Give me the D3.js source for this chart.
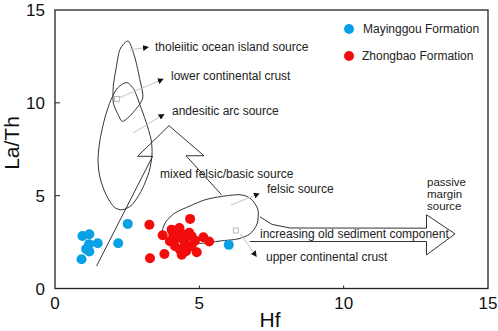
<!DOCTYPE html>
<html>
<head>
<meta charset="utf-8">
<script src="https://cdn.jsdelivr.net/npm/d3@7"></script>
<style>
  body { margin: 0; background: #fff; }
  svg { font-family: "Liberation Sans", Arial, sans-serif; }
</style>
</head>
<body>
<svg width="498" height="331"></svg>
<script>
// 1. Data
const xTicks = [0, 5, 10, 15];
const yTicks = [0, 5, 10, 15];

// Mayinggou Formation (Hf, La/Th)
const mayinggouHf   = [0.95, 1.19, 1.48, 1.18, 1.08, 1.19, 0.92, 2.52, 2.19, 6.02];
const mayinggouLaTh = [2.83, 2.92, 2.44, 2.39, 2.12, 1.99, 1.58, 3.48, 2.44, 2.35];

// Zhongbao Formation (Hf, La/Th)
const zhongbaoHf   = [3.27, 4.68, 3.73, 3.29, 3.79, 4.91, 5.14, 5.34,
                      4.04, 4.31, 4.65, 4.73, 4.85, 3.98, 4.16, 4.33, 4.54, 4.73, 4.27, 4.44, 4.50, 4.10, 4.39];
const zhongbaoLaTh = [3.43, 3.75, 2.87, 1.63, 1.86, 1.95, 2.76, 2.53,
                      3.17, 3.26, 3.00, 2.82, 2.58, 2.55, 2.28, 2.09, 2.01, 2.28, 2.73, 2.90, 2.46, 2.90, 1.82];

// source fields, in Hf / La/Th units
const oceanIslandField = [[2.54, 13.32], [2.25, 12.87], [2.11, 11.79], [2.02, 10.89], [2.02, 9.99], [2.19, 9.36],
                          [2.35, 9.0], [2.70, 9.47], [3.04, 10.26], [2.94, 11.25], [2.77, 12.42]];
const arcField = [[2.49, 11.09], [2.18, 10.82], [1.94, 10.17], [1.73, 9.2], [1.56, 8.01], [1.49, 6.93], [1.56, 5.96],
                  [1.77, 5.05], [2.04, 4.4], [2.32, 4.24], [2.67, 4.51], [3.01, 5.32], [3.26, 6.29], [3.36, 7.2],
                  [3.33, 8.01], [3.15, 8.99], [2.94, 9.9], [2.74, 10.71]];
const felsicField = [[3.71, 3.05], [3.84, 3.59], [4.16, 4.07], [4.68, 4.45], [5.2, 4.78], [5.78, 4.96], [6.41, 5.05],
                     [6.79, 4.83], [7.03, 4.24], [7.0, 3.48], [6.75, 2.94], [6.34, 2.67], [5.72, 2.56], [5.02, 2.43],
                     [4.33, 2.51], [3.84, 2.73]];
const mixingArrow = [[1.44, 1.21], [3.38, 7.12], [2.86, 7.12], [3.95, 8.77], [5.16, 7.15], [4.54, 7.15], [5.77, 5.05]];
const sedimentArrow = [[7.1, 3.86], [7.52, 3.45], [8.14, 3.26], [12.87, 3.25], [12.87, 3.97], [13.86, 2.94],
                       [12.87, 1.81], [12.87, 2.53], [6.75, 2.53]];

// annotations: [text, x, y] in pixels, leader lines [x1, y1, x2, y2]
const notes = [
  ["tholeiitic ocean island source", 155, 47],
  ["lower continental crust", 171, 76],
  ["andesitic arc source", 172, 111],
  ["mixed felsic/basic source", 160, 174],
  ["felsic source", 267, 189],
  ["increasing old sediment component", 260, 234],
  ["upper continental crust", 266, 256.5]
];
const marginNote = ["passive", "margin", "source"];
const leaders = [
  [130, 50, 146, 47.5],
  [120, 97.5, 161, 80],
  [133, 133, 162, 115.5],
  [231, 205, 257, 194.5],
  [240, 233.5, 255, 254.5]
];
const squares = [[117, 99], [235.8, 230.5]];

// 2. Setup
const svg = d3.select("svg");
const blue = "#0aa0e6";
const red = "#f20c0c";

const x = d3.scaleLinear().domain([0, 15]).range([55, 488]);
const y = d3.scaleLinear().domain([0, 15]).range([288.5, 10]);

svg.append("defs").append("marker")
    .attr("id", "tip")
    .attr("viewBox", "0 0 10 10")
    .attr("refX", 5).attr("refY", 5)
    .attr("markerWidth", 6).attr("markerHeight", 6)
    .attr("markerUnits", "userSpaceOnUse")
    .attr("orient", "auto")
  .append("path")
    .attr("d", "M0,0L10,5L0,10z")
    .attr("fill", "#111");

// 3. Frame and axes
svg.append("rect")
    .attr("x", x(0)).attr("y", y(15))
    .attr("width", x(15) - x(0)).attr("height", y(0) - y(15))
    .attr("fill", "none").attr("stroke", "#222").attr("stroke-width", 1.3);

svg.selectAll(".xtick").data(xTicks.slice(1, 3)).join("line")
    .attr("x1", d => x(d)).attr("x2", d => x(d))
    .attr("y1", y(0)).attr("y2", y(0) - 3)
    .attr("stroke", "#222");
svg.selectAll(".ytick").data(yTicks.slice(1, 3)).join("line")
    .attr("x1", x(0)).attr("x2", x(0) + 5)
    .attr("y1", d => y(d)).attr("y2", d => y(d))
    .attr("stroke", "#222");

svg.selectAll(".xlab").data(xTicks).join("text")
    .attr("x", d => x(d)).attr("y", 308.5)
    .attr("text-anchor", "middle")
    .attr("font-size", 17).attr("fill", "#111")
    .text(d => d);
svg.selectAll(".ylab").data(yTicks).join("text")
    .attr("x", 45).attr("y", d => y(d) + 6)
    .attr("text-anchor", "end")
    .attr("font-size", 17).attr("fill", "#111")
    .text(d => d);

svg.append("text")
    .attr("x", 270).attr("y", 327)
    .attr("text-anchor", "middle")
    .attr("font-size", 21).attr("fill", "#111")
    .text("Hf");
svg.append("text")
    .attr("transform", "translate(19,143) rotate(-90)")
    .attr("text-anchor", "middle")
    .attr("font-size", 21).attr("fill", "#111")
    .text("La/Th");

// 4. Fields and arrows
const closed = d3.line().x(d => x(d[0])).y(d => y(d[1])).curve(d3.curveCardinalClosed.tension(0.2));
const open = d3.line().x(d => x(d[0])).y(d => y(d[1]));

[oceanIslandField, arcField, felsicField].forEach(f => {
  svg.append("path").attr("d", closed(f))
      .attr("fill", "none").attr("stroke", "#333").attr("stroke-width", 1);
});
[mixingArrow, sedimentArrow].forEach(a => {
  svg.append("path").attr("d", open(a))
      .attr("fill", "none").attr("stroke", "#333").attr("stroke-width", 1);
});

// 5. Leaders and labels
svg.selectAll(".leader").data(leaders).join("line")
    .attr("x1", d => d[0]).attr("y1", d => d[1])
    .attr("x2", d => d[2]).attr("y2", d => d[3])
    .attr("stroke", "#c4c4c4").attr("stroke-width", 1)
    .attr("marker-end", "url(#tip)");
svg.selectAll(".sq").data(squares).join("rect")
    .attr("x", d => d[0] - 2.5).attr("y", d => d[1] - 2.5)
    .attr("width", 5).attr("height", 5)
    .attr("fill", "none").attr("stroke", "#aaa").attr("stroke-width", 0.8);

svg.selectAll(".note").data(notes).join("text")
    .attr("x", d => d[1]).attr("y", d => d[2] + 4)
    .attr("font-size", 12).attr("fill", "#222")
    .text(d => d[0]);

svg.append("text")
    .attr("x", 427).attr("y", 185.5)
    .attr("font-size", 11.5).attr("fill", "#222")
  .selectAll("tspan").data(marginNote).join("tspan")
    .attr("x", 427).attr("dy", (d, i) => i ? 12 : 0)
    .text(d => d);

// 6. Samples
svg.selectAll(".zb").data(zhongbaoHf).join("circle")
    .attr("cx", d => x(d)).attr("cy", (d, i) => y(zhongbaoLaTh[i]))
    .attr("r", 5).attr("fill", red);
svg.selectAll(".my").data(mayinggouHf).join("circle")
    .attr("cx", d => x(d)).attr("cy", (d, i) => y(mayinggouLaTh[i]))
    .attr("r", 5).attr("fill", blue);

// 7. Legend
const legend = [["Mayinggou Formation", blue], ["Zhongbao Formation", red]];
legend.forEach((l, i) => {
  svg.append("circle").attr("cx", 349).attr("cy", 29 + i * 27).attr("r", 5).attr("fill", l[1]);
  svg.append("text").attr("x", 363 - i).attr("y", 33 + i * 27)
      .attr("font-size", 12).attr("fill", "#222").text(l[0]);
});
</script>
</body>
</html>
